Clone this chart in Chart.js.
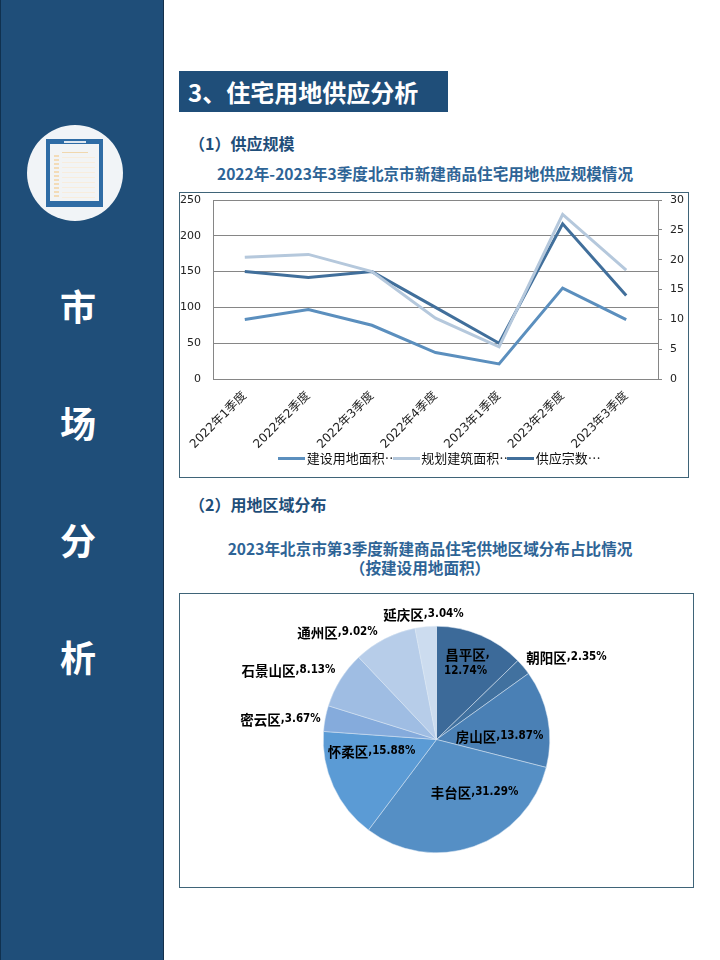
<!DOCTYPE html>
<html>
<head>
<meta charset="utf-8">
<script src="https://cdn.jsdelivr.net/npm/chart.js@4"></script>
<style>
html, body { margin: 0; padding: 0; background: #fff; width: 720px; height: 960px; overflow: hidden; }
body { font-family: "Noto Sans CJK SC", sans-serif; position: relative; }
div, canvas { position: absolute; }
canvas { display: block; }
.side { left: 0; top: 0; width: 164px; height: 960px; background: #1f4e79; border-left: 1px solid #10314f; border-right: 1px solid #14304a; box-sizing: border-box; }
.sideword { left: 0; width: 156px; text-align: center; color: #fff; font-size: 36px; font-weight: 700; line-height: 40px; }
.circle { left: 27px; top: 125px; width: 96px; height: 96px; border-radius: 50%; background: #f1f4f7; }
.doc { left: 46px; top: 139px; width: 57px; height: 68px; background: #2f6ca5; }
.paper { left: 50px; top: 144px; width: 49px; height: 57px; background: #f2f4f5; }
.clip { left: 64px; top: 141px; width: 22px; height: 2px; background: #dfe7ef; }
.rule1 { left: 62px; top: 152px; width: 26px; height: 1px; background: #f0d7ae; }
.rules { left: 62px; top: 157px; width: 33px; height: 42px; background: repeating-linear-gradient(#f8eddd 0 1px, transparent 1px 5px); }
.ticks { left: 54px; top: 155px; width: 5px; height: 44px; background: repeating-linear-gradient(#f3dcb8 0 2px, transparent 2px 4px); }
.head { left: 179px; top: 71px; width: 269px; height: 41px; background: #1f4e79; color: #fff; font-size: 24px; font-weight: 700; line-height: 42px; padding-left: 9px; box-sizing: border-box; white-space: nowrap; }
.sub { color: #1f4e79; font-size: 16px; font-weight: 700; line-height: 20px; white-space: nowrap; }
.ctitle { color: #2e6496; font-size: 15.6px; font-weight: 700; line-height: 19px; text-align: center; white-space: nowrap; }
.frame { box-sizing: border-box; border: 1px solid #3f6478; background: #fff; }
</style>
</head>
<body>
<div class="side"></div>
<div class="circle"></div>
<div class="doc"></div>
<div class="paper"></div>
<div class="clip"></div>
<div class="rule1"></div>
<div class="rules"></div>
<div class="ticks"></div>
<div class="sideword" style="top:285px">市</div>
<div class="sideword" style="top:402px">场</div>
<div class="sideword" style="top:519px">分</div>
<div class="sideword" style="top:636px">析</div>

<div class="head">3、住宅用地供应分析</div>
<div class="sub" style="left:189px;top:133px">（1）供应规模</div>
<div class="ctitle" style="left:179px;width:492px;top:164px">2022年-2023年3季度北京市新建商品住宅用地供应规模情况</div>
<div class="frame" style="left:179px;top:192px;width:510px;height:286px"></div>
<canvas id="lineChart" style="left:180px;top:193px" width="508" height="284"></canvas>

<div class="sub" style="left:189px;top:494px">（2）用地区域分布</div>
<div class="ctitle" style="left:179px;width:502px;top:539px">2023年北京市第3季度新建商品住宅供地区域分布占比情况</div>
<div class="ctitle" style="left:179px;width:482px;top:558px">（按建设用地面积）</div>
<div class="frame" style="left:179px;top:593px;width:515px;height:295px"></div>
<canvas id="pieChart" style="left:180px;top:594px" width="513" height="293"></canvas>

<script>
var quarters = ['2022年1季度','2022年2季度','2022年3季度','2022年4季度','2023年1季度','2023年2季度','2023年3季度'];
var landArea = [83, 97, 75, 37, 21, 127, 83];
var floorArea = [170, 174, 150, 85, 45, 230, 152];
var supplyCount = [18, 17, 18, 12, 6, 26, 14];
var seriesNames = ['建设用地面积⋯', '规划建筑面积⋯', '供应宗数⋯'];
var lineColours = ['#5b8fbe', '#b5c8dc', '#416f9b'];

var districts = ['昌平区','朝阳区','房山区','丰台区','怀柔区','密云区','石景山区','通州区','延庆区'];
var shares = [12.74, 2.35, 13.87, 31.29, 15.88, 3.67, 8.13, 9.02, 3.04];
var pieColours = ['#3c6a99','#41719f','#4a80b5','#558fc5','#5b9bd5','#85abdc','#9fbde3','#b7cde9','#ccdcef'];

// label centres, offset from the pie centre
var labelSpots = [[29,-77],[130,-82],[63,-3],[38,53],[-65,12],[-156,-20],[-148,-69],[-99,-107],[-13,-125]];

var tickFont = { family: '"DejaVu Sans","Noto Sans CJK SC"', size: 11 };
var gridColour = '#868686';

// legend keys are wider than their slot in the original, so they run into the text
function legendKey(colour) {
    var c = document.createElement('canvas');
    c.width = 27;
    c.height = 3;
    var g = c.getContext('2d');
    g.fillStyle = colour;
    g.fillRect(0, 0, 27, 3);
    return c;
}

var shiftLegend = {
    id: 'shiftLegend',
    afterLayout: function(chart) {
        chart.legend.left += 8;
        chart.legend.right += 8;
    }
};

new Chart(document.getElementById('lineChart'), {
    type: 'line',
    data: {
        labels: quarters,
        datasets: [
            { label: seriesNames[0], data: landArea, borderColor: lineColours[0], backgroundColor: lineColours[0], pointStyle: legendKey(lineColours[0]), yAxisID: 'y' },
            { label: seriesNames[1], data: floorArea, borderColor: lineColours[1], backgroundColor: lineColours[1], pointStyle: legendKey(lineColours[1]), yAxisID: 'y' },
            { label: seriesNames[2], data: supplyCount, borderColor: lineColours[2], backgroundColor: lineColours[2], pointStyle: legendKey(lineColours[2]), yAxisID: 'y1' }
        ]
    },
    options: {
        animation: false,
        responsive: false,
        elements: { point: { radius: 0 }, line: { borderWidth: 3, tension: 0 } },
        layout: { padding: { top: 7, bottom: 2 } },
        scales: {
            x: {
                offset: true,
                grid: { display: false },
                border: { color: gridColour },
                ticks: { color: '#222', font: { family: tickFont.family, size: 12 }, minRotation: 45, maxRotation: 45, padding: 2 },
                afterFit: function(s) { s.height = 73; s.paddingLeft = 0; s.paddingRight = 0; }
            },
            y: {
                min: 0, max: 250,
                afterFit: function(s) { s.width = 33; s.paddingTop = 0; s.paddingBottom = 0; },
                grid: { color: gridColour, drawTicks: false },
                border: { color: gridColour },
                ticks: { stepSize: 50, color: '#222', font: tickFont, padding: 12 }
            },
            y1: {
                position: 'right',
                min: 0, max: 30,
                afterFit: function(s) { s.width = 30; s.paddingTop = 0; s.paddingBottom = 0; },
                grid: { drawOnChartArea: false, color: gridColour, tickLength: 4 },
                border: { color: gridColour },
                ticks: { stepSize: 5, color: '#222', font: tickFont, padding: 8 }
            }
        },
        plugins: {
            tooltip: { enabled: false },
            legend: {
                position: 'bottom',
                labels: {
                    usePointStyle: true,
                    pointStyleWidth: 17,
                    padding: 0,
                    color: '#111',
                    font: { family: '"Noto Sans CJK SC"', size: 13 }
                }
            }
        }
    },
    plugins: [shiftLegend]
});

var pieLabels = {
    id: 'pieLabels',
    afterDatasetsDraw: function(chart) {
        var ctx = chart.ctx;
        var arcs = chart.getDatasetMeta(0).data;
        ctx.save();
        ctx.fillStyle = '#000';
        ctx.textBaseline = 'middle';
        ctx.textAlign = 'left';
        var nameFont = '700 13.5px "Noto Sans CJK SC"';
        var numFont = '700 11.5px "DejaVu Sans Condensed","DejaVu Sans"';
        for (var i = 0; i < districts.length; i++) {
            var cx = arcs[i].x + labelSpots[i][0];
            var cy = arcs[i].y + labelSpots[i][1];
            var name = districts[i];
            var num = ',' + shares[i].toFixed(2) + '%';
            ctx.font = nameFont;
            var nw = ctx.measureText(name).width;
            ctx.font = numFont;
            var vw = ctx.measureText(num).width;
            if (i === 0) {
                // this one wraps on two lines in the original
                ctx.font = nameFont;
                ctx.fillText(name, cx - nw / 2, cy - 8);
                ctx.font = numFont;
                ctx.fillText(',', cx + nw / 2, cy - 8);
                var w2 = ctx.measureText(shares[i].toFixed(2) + '%').width;
                ctx.fillText(shares[i].toFixed(2) + '%', cx - w2 / 2, cy + 9);
            } else {
                var x = cx - (nw + vw) / 2;
                ctx.font = nameFont;
                ctx.fillText(name, x, cy);
                ctx.font = numFont;
                ctx.fillText(num, x + nw, cy);
            }
        }
        ctx.restore();
    }
};

new Chart(document.getElementById('pieChart'), {
    type: 'pie',
    data: {
        labels: districts,
        datasets: [{ data: shares, backgroundColor: pieColours, borderColor: '#dbe6f2', borderWidth: 0.5 }]
    },
    options: {
        animation: false,
        responsive: false,
        layout: { padding: { left: 0, right: 0, top: 32, bottom: 34 } },
        plugins: { legend: { display: false }, tooltip: { enabled: false } }
    },
    plugins: [pieLabels]
});
</script>
</body>
</html>
